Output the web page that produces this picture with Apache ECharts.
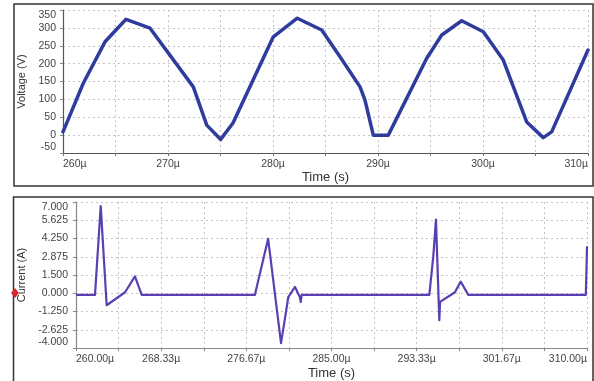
<!DOCTYPE html>
<html>
<head>
<meta charset="utf-8">
<script src="https://cdn.jsdelivr.net/npm/echarts@6/dist/echarts.min.js"></script>
<style>html,body{margin:0;padding:0;background:#fff;}#c{width:594px;height:381px;}</style>
</head>
<body>
<div id="c"></div>
<script>
// Voltage trace (time in µs, volts)
const voltTime = [260.0, 261.93, 264.0, 266.0, 268.29, 272.41, 273.69, 275.02, 276.19, 280.03, 282.31, 284.64, 286.38, 288.29, 288.76, 289.55, 290.98, 294.64, 296.07, 297.97, 300.03, 301.93, 304.16, 305.74, 306.54, 310.0];
const voltValues = [9, 145, 261, 324, 299, 135, 28, -12, 34, 275, 327, 294, 219, 135, 98, 0, 0, 215, 280, 320, 289, 210, 37, -7, 9, 238];

// Current trace (time in µs, amperes)
const currTime = [260.0, 261.86, 262.42, 263.0, 264.8, 265.77, 266.43, 277.5, 278.8, 280.06, 280.45, 280.77, 281.43, 281.9, 281.99, 282.08, 294.57, 294.96, 295.22, 295.55, 295.62, 297.08, 297.64, 298.39, 309.88, 309.95, 310.0];
const currValues = [0, 0, 6.7, -0.78, 0.2, 1.4, 0, 0, 4.23, -3.63, -1.77, -0.16, 0.6, -0.16, -0.53, 0, 0, 2.9, 5.67, -1.9, -0.53, 0.2, 1.0, 0, 0, 2.0, 3.66];

// Tick labels
const voltTicks = [-50, 0, 50, 100, 150, 200, 250, 300, 350];
const voltXTicks = ['260µ', '270µ', '280µ', '290µ', '300µ', '310µ'];
const currTickLabels = ['-4.000', '-2.625', '-1.250', '0.000', '1.500', '2.875', '4.250', '5.625', '7.000'];
const currXTickLabels = ['260.00µ', '268.33µ', '276.67µ', '285.00µ', '293.33µ', '301.67µ', '310.00µ'];

const chart = echarts.init(document.getElementById('c'), null, {renderer: 'canvas'});
const FONT = '"Liberation Sans", Arial, sans-serif';
const grid = {color: '#c4c4c4', type: [2, 3], width: 1};
const labelStyle = {color: '#444', fontSize: 10.5, fontFamily: FONT};

chart.setOption({
  animation: false,
  backgroundColor: '#ffffff',
  grid: [
    {left: 63, right: 6, top: 10, height: 143},
    {left: 76, right: 7, top: 202, height: 148}
  ],
  xAxis: [
    {
      type: 'value', gridIndex: 0, min: 260, max: 310, interval: 5,
      name: 'Time (s)', nameLocation: 'middle', nameGap: 16,
      nameTextStyle: {color: '#333', fontSize: 13, fontFamily: FONT},
      axisLine: {show: true, onZero: false, lineStyle: {color: '#555', width: 1.2}},
      axisTick: {show: true, length: 3, lineStyle: {color: '#777'}},
      splitLine: {show: true, lineStyle: grid},
      axisLabel: Object.assign({}, labelStyle, {
        margin: 6, showMinLabel: true, showMaxLabel: true,
        alignMinLabel: 'left', alignMaxLabel: 'right',
        formatter: function (v) {
          const k = Math.round((v - 260) / 5);
          return k % 2 === 0 ? voltXTicks[k / 2] : '';
        }
      })
    },
    {
      type: 'value', gridIndex: 1, min: 260, max: 310, interval: 25 / 6,
      name: 'Time (s)', nameLocation: 'middle', nameGap: 19,
      nameTextStyle: {color: '#333', fontSize: 13, fontFamily: FONT},
      axisLine: {show: true, onZero: false, lineStyle: {color: '#888', width: 1.2}},
      axisTick: {show: true, length: 3, lineStyle: {color: '#888'}},
      splitLine: {show: true, lineStyle: grid},
      axisLabel: Object.assign({}, labelStyle, {
        margin: 6, showMinLabel: true, showMaxLabel: true,
        alignMinLabel: 'left', alignMaxLabel: 'right',
        formatter: function (v) {
          const k = Math.round((v - 260) / (25 / 6));
          return k % 2 === 0 ? currXTickLabels[k / 2] : '';
        }
      })
    }
  ],
  yAxis: [
    {
      type: 'value', gridIndex: 0, min: -50, max: 350, interval: 50,
      name: 'Voltage (V)', nameLocation: 'middle', nameGap: 32,
      nameTextStyle: {color: '#333', fontSize: 11, fontFamily: FONT},
      axisLine: {show: true, onZero: false, lineStyle: {color: '#555', width: 1.2}},
      axisTick: {show: true, length: 3, lineStyle: {color: '#888'}},
      splitLine: {show: true, lineStyle: grid},
      axisLabel: Object.assign({}, labelStyle, {
        margin: 7, verticalAlignMinLabel: 'bottom', verticalAlignMaxLabel: 'top',
        formatter: function (v) {
          const i = voltTicks.indexOf(Math.round(v));
          return i >= 0 ? String(voltTicks[i]) : '';
        }
      })
    },
    {
      type: 'value', gridIndex: 1, min: -4, max: 7, interval: 1.375,
      name: 'Current (A)', nameLocation: 'middle', nameGap: 44,
      nameTextStyle: {color: '#333', fontSize: 11, fontFamily: FONT},
      axisLine: {show: true, onZero: false, lineStyle: {color: '#888', width: 1.2}},
      axisTick: {show: true, length: 3, lineStyle: {color: '#888'}},
      splitLine: {show: true, lineStyle: grid},
      axisLabel: Object.assign({}, labelStyle, {
        margin: 8, verticalAlignMinLabel: 'bottom', verticalAlignMaxLabel: 'top',
        formatter: function (v) {
          const i = Math.round((v + 4) / 1.375);
          return currTickLabels[i] || '';
        }
      })
    }
  ],
  graphic: [
    {type: 'rect', shape: {x: 14, y: 4, width: 579, height: 182}, style: {fill: 'none', stroke: '#333', lineWidth: 1.5}, z: 0, silent: true},
    {type: 'rect', shape: {x: 13.5, y: 197, width: 579.5, height: 190}, style: {fill: 'none', stroke: '#333', lineWidth: 1.5}, z: 0, silent: true},
    {type: 'polygon', shape: {points: [[11, 293], [15, 288], [19, 293], [15, 298]]}, style: {fill: '#d6262f'}, z: 10, silent: true}
  ],
  series: [
    {
      type: 'line', xAxisIndex: 0, yAxisIndex: 0, showSymbol: false,
      data: voltTime.map((t, i) => [t, voltValues[i]]),
      lineStyle: {color: '#2f3c9e', width: 3.5, join: 'round', cap: 'round'},
      itemStyle: {color: '#2f3c9e'}
    },
    {
      type: 'line', xAxisIndex: 1, yAxisIndex: 1, showSymbol: false,
      data: currTime.map((t, i) => [t, currValues[i]]),
      lineStyle: {color: '#5a3fb3', width: 2.2, join: 'round'},
      itemStyle: {color: '#5a3fb3'}
    }
  ]
});
</script>
</body>
</html>
